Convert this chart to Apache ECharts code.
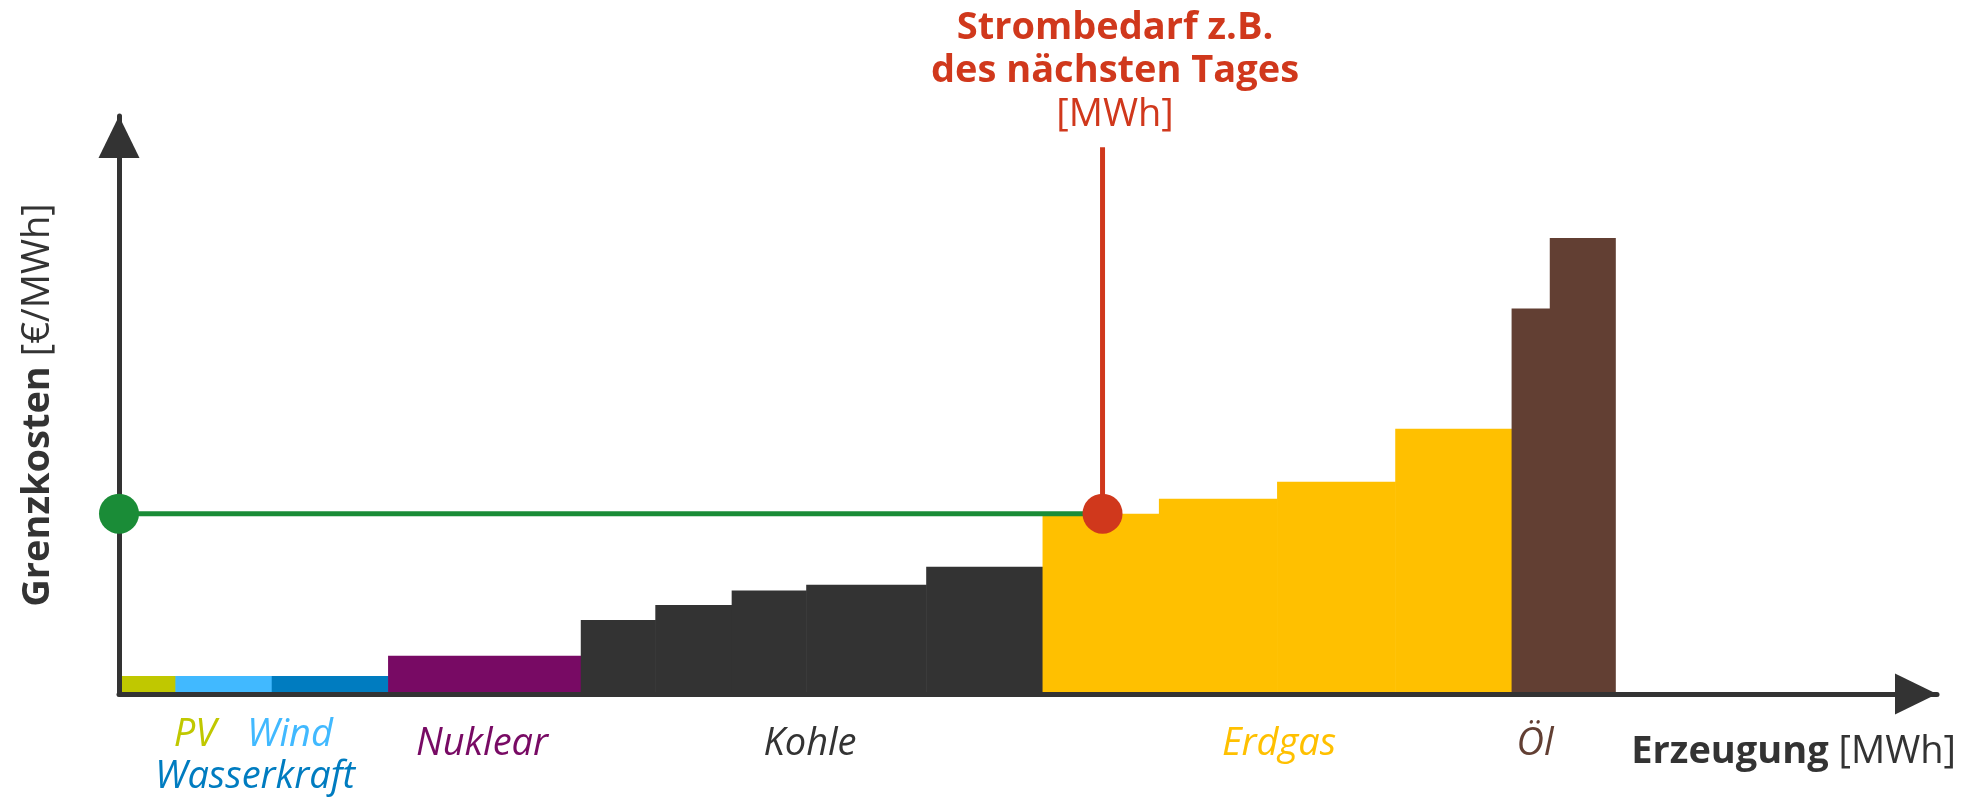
<!DOCTYPE html>
<html>
<head>
<meta charset="utf-8">
<script src="https://cdn.jsdelivr.net/npm/echarts@6/dist/echarts.min.js"></script>
<style>
    html, body { margin: 0; padding: 0; background: #ffffff; }
    #chart { width: 1972px; height: 798px; }
</style>
</head>
<body>
<div id="chart"></div>
<script>
// Merit-Order: Kraftwerksblöcke nach Grenzkosten sortiert
const blockSource = ['PV', 'Wind', 'Wasserkraft', 'Nuklear',
    'Kohle', 'Kohle', 'Kohle', 'Kohle', 'Kohle',
    'Erdgas', 'Erdgas', 'Erdgas', 'Erdgas',
    'Öl', 'Öl']
// Leistung je Block (Breite)
const blockCapacity = [3.1, 5.3, 6.4, 10.6, 4.1, 4.2, 4.1, 6.6, 6.4, 6.4, 6.5, 6.5, 6.4, 2.1, 3.6]
// Grenzkosten je Block (Höhe)
const blockCost = [3.1, 3.1, 3.1, 6.6, 12.8, 15.4, 17.9, 18.9, 22.0, 31.2, 33.8, 36.7, 45.9, 66.7, 78.9]
// Strombedarf des nächsten Tages
const demand = 54.1
const demandTop = 94.6

const sourceColors = {
    'PV': '#c0c800',
    'Wind': '#41b9ff',
    'Wasserkraft': '#007cc0',
    'Nuklear': '#780a64',
    'Kohle': '#333333',
    'Erdgas': '#ffc000',
    'Öl': '#623f33',
}

const FONT = '"Open Sans", "Noto Sans", sans-serif'
const RED = '#d0381c'
const GREEN = '#1a8c37'

// Blöcke aufaddieren
const blocks = []
let acc = 0
for (let i = 0; i < blockCapacity.length; i++) {
    blocks.push({
        value: [acc, acc + blockCapacity[i], blockCost[i]],
        itemStyle: { color: sourceColors[blockSource[i]] }
    })
    acc += blockCapacity[i]
}

// Markträumungspreis = Grenzkosten des Blocks, der den Bedarf deckt
let clearingPrice = 0
for (let i = 0; i < blocks.length; i++) {
    if (demand >= blocks[i].value[0] && demand <= blocks[i].value[1]) {
        clearingPrice = blocks[i].value[2]
    }
}

const axisCommon = {
    type: 'value',
    min: 0,
    max: 100,
    z: 5,
    axisLine: {
        show: true,
        symbol: ['none', 'triangle'],
        symbolSize: [41, 42],
        symbolOffset: [0, -21],
        lineStyle: { color: '#333333', width: 5 }
    },
    axisTick: { show: false },
    axisLabel: { show: false },
    splitLine: { show: false },
}

const labelText = (text, x, y, color) => ({
    type: 'text',
    x, y,
    style: {
        text,
        fill: color,
        font: 'italic 38px ' + FONT,
        textAlign: 'center',
        textVerticalAlign: 'middle',
    }
})

const richStyle = {
    b: { fontFamily: FONT, fontSize: 38, fontWeight: 'bold', fill: '#333333', color: '#333333' },
    r: { fontFamily: FONT, fontSize: 38, fill: '#333333', color: '#333333' },
}

const option = {
    backgroundColor: '#ffffff',
    animation: false,
    grid: { left: 119, right: 35, top: 116, bottom: 104 },
    xAxis: axisCommon,
    yAxis: axisCommon,
    series: [
        {
            type: 'custom',
            renderItem: (params, api) => {
                const p0 = api.coord([api.value(0), api.value(2)])
                const p1 = api.coord([api.value(1), 0])
                return {
                    type: 'rect',
                    shape: { x: p0[0], y: p0[1], width: p1[0] - p0[0] + 0.6, height: p1[1] - p0[1] },
                    style: { fill: api.visual('color') }
                }
            },
            encode: { x: [0, 1], y: 2 },
            data: blocks,
            z: 2,
        },
        {
            type: 'line',
            data: [[0, clearingPrice], [demand, clearingPrice]],
            symbol: 'none',
            lineStyle: { color: GREEN, width: 5 },
            z: 6,
        },
        {
            type: 'line',
            data: [[demand, demandTop], [demand, clearingPrice]],
            symbol: 'none',
            lineStyle: { color: RED, width: 5 },
            z: 6,
        },
        {
            type: 'scatter',
            clip: false,
            symbolSize: 40,
            itemStyle: { opacity: 1 },
            data: [
                { value: [0, clearingPrice], itemStyle: { color: GREEN } },
                { value: [demand, clearingPrice], itemStyle: { color: RED } },
            ],
            z: 7,
        },
    ],
    graphic: [
        {
            type: 'text',
            x: 38, y: 405,
            rotation: Math.PI / 2,
            style: {
                text: '{b|Grenzkosten }{r|[€/MWh]}',
                textAlign: 'center',
                textVerticalAlign: 'middle',
                rich: richStyle
            }
        },
        {
            type: 'text',
            x: 1956, y: 752,
            style: {
                text: '{b|Erzeugung }{r|[MWh]}',
                textAlign: 'right',
                textVerticalAlign: 'middle',
                rich: richStyle
            }
        },
        {
            type: 'text', x: 1115, y: 28,
            style: { text: 'Strombedarf z.B.', fill: RED, font: 'bold 38px ' + FONT, textAlign: 'center', textVerticalAlign: 'middle' }
        },
        {
            type: 'text', x: 1115, y: 71,
            style: { text: 'des nächsten Tages', fill: RED, font: 'bold 38px ' + FONT, textAlign: 'center', textVerticalAlign: 'middle' }
        },
        {
            type: 'text', x: 1115, y: 115,
            style: { text: '[MWh]', fill: RED, font: '38px ' + FONT, textAlign: 'center', textVerticalAlign: 'middle' }
        },
        labelText('PV', 195, 735, sourceColors['PV']),
        labelText('Wind', 290, 735, sourceColors['Wind']),
        labelText('Wasserkraft', 255, 777, sourceColors['Wasserkraft']),
        labelText('Nuklear', 482, 744, sourceColors['Nuklear']),
        labelText('Kohle', 810, 744, sourceColors['Kohle']),
        labelText('Erdgas', 1279, 744, sourceColors['Erdgas']),
        labelText('Öl', 1535, 744, sourceColors['Öl']),
    ]
}

const myChart = echarts.init(document.getElementById('chart'))
myChart.setOption(option)
</script>
</body>
</html>
